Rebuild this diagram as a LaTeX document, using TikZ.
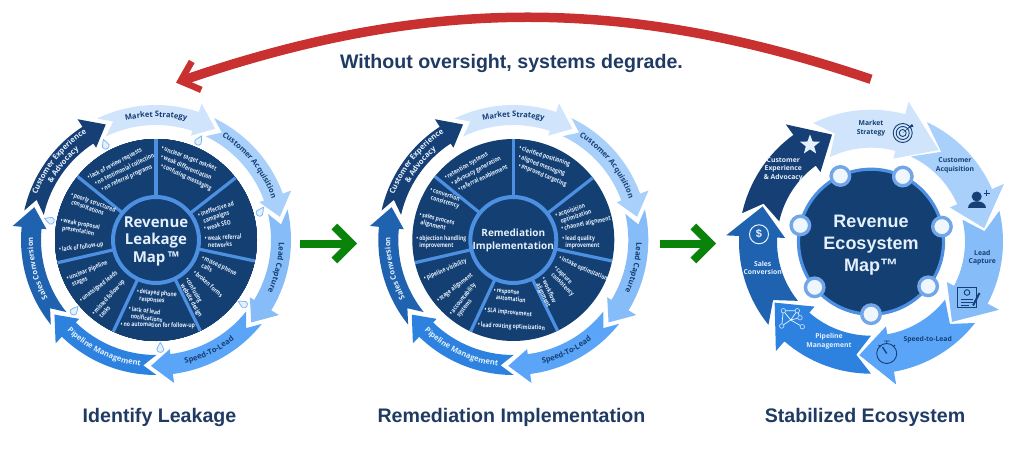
\documentclass[tikz,border=0pt]{standalone}
\usepackage{fontspec}
\setmainfont{Liberation Sans}
\newfontfamily\labelfont{Open Sans}
\newfontfamily\itemfont[FakeStretch=0.8]{Open Sans}
\usepackage{tikz}
\usetikzlibrary{arrows.meta,bending,shapes.geometric,decorations.text}

\definecolor{navy}{HTML}{143F73}
\definecolor{inktitle}{HTML}{1F3B63}
\definecolor{spoke}{HTML}{4D90E2}
\definecolor{colms}{HTML}{D0E5FC}
\definecolor{colca}{HTML}{A8D0FA}
\definecolor{collc}{HTML}{86BCF7}
\definecolor{colsl}{HTML}{5AA5F7}
\definecolor{colpm}{HTML}{2E82DF}
\definecolor{colsc}{HTML}{1F62B0}
\definecolor{colcx}{HTML}{163F75}
\definecolor{iceblue}{HTML}{E4F0FC}
\definecolor{oversight}{HTML}{C93030}
\definecolor{forward}{HTML}{0A830A}

% #1 outer radius, #2 inner radius, #3 outer barb, #4 inner barb, #5 tip radius, #6 arrow list
\newcommand{\ringarrows}[6]{
  \foreach \tip/\barb/\tail/\notch/\col in {#6}
    \fill[\col] (\tail:#1) arc[start angle=\tail, end angle=\barb, radius=#1]
      -- (\barb:#3) -- (\tip:#5) -- (\barb:#4) -- (\barb:#2)
      arc[start angle=\barb, end angle=\tail, radius=#2] -- (\notch:#5) -- cycle;
}
% #1 mid angle, #2 half sweep (negative: reads along the bottom), #3 radius, #4 colour, #5 text
\newcommand{\ringlabel}[5]{
  \path[decorate, decoration={text along path, text align=center,
    text={|\labelfont\bfseries\fontsize{7.6}{8}\selectfont\color{#4}|#5}}]
    ({#1+#2}:#3) arc[start angle={#1+#2}, end angle={#1-#2}, radius=#3];
}
% the ring shared by the two wheels
\newcommand{\smallring}{
  \ringarrows{135}{115}{144}{110}{126}{
    62/71.5/115.9/109.9/colms, 10.6/20.1/64.5/58.5/colca, -40.9/-31.4/13.1/7.1/collc,
    -92.3/-82.8/-38.4/-44.4/colsl, -143.7/-134.2/-89.8/-95.8/colpm,
    -195.1/-185.6/-141.2/-147.2/colsc, -246.5/-237/-192.6/-198.6/colcx}
  \ringlabel{90}{27}{123}{colcx}{Market Strategy}
  \ringlabel{38.6}{27}{123}{colcx}{Customer Acquisition}
  \ringlabel{-12.9}{27}{123}{colcx}{Lead Capture}
  \ringlabel{-64.3}{-27}{127}{colcx}{Speed-To-Lead}
  \ringlabel{-115.7}{-27}{127}{iceblue}{Pipeline Management}
  \ringlabel{193.6}{27}{123}{iceblue}{Sales Conversion}
  \ringlabel{141}{30}{127.5}{iceblue}{Customer Experience}
  \ringlabel{141}{27}{118.5}{iceblue}{{\&} Advocacy}
}
\newcommand{\leakdrop}[2]{
  \draw[dropmark, shift={(#1:108)}, rotate=#2] (0,5.5) .. controls (1,2.5) and (3.5,1) .. (3.5,-1.5)
    .. controls (3.5,-3.5) and (1.5,-4.5) .. (0,-4.5) .. controls (-1.5,-4.5) and (-3.5,-3.5) .. (-3.5,-1.5)
    .. controls (-3.5,1) and (-1,2.5) .. (0,5.5) -- cycle;
}

\begin{document}
\begin{tikzpicture}[
    x=1pt, y=1pt,
    disc/.style={circle, fill=navy, inner sep=0pt, outer sep=0pt, minimum size=#1},
    hub/.style={circle, fill=navy, draw=spoke, line width=4pt, inner sep=0pt, outer sep=0pt, minimum size=86pt, align=center, text=iceblue},
    spokeline/.style={draw=spoke, line width=3.2pt},
    wedgeitem/.style={font=\itemfont\bfseries\fontsize{6.3}{7.2}\selectfont, text=iceblue, anchor=north west, align=left, inner sep=0pt},
    title/.style={font=\bfseries\fontsize{19.6}{22}\selectfont, text=inktitle},
    steplabel/.style={font=\labelfont\bfseries\fontsize{6.8}{8.2}\selectfont, align=center, inner sep=0pt, text=#1},
    dropmark/.style={draw=colsl!80, fill=iceblue, line width=0.8pt},
    greenarrow/.style={draw=forward, line width=8pt, -{Straight Barb[length=17pt, width=34pt, line width=8pt]}},
    redarc/.style={draw=oversight, line width=9.5pt, -{Straight Barb[length=17pt, width=30pt, line width=6.5pt, bend]}},
    iconink/.style={draw=colcx, line width=0.9pt},
    knot/.style={circle, draw=colsl!40, fill=colpm, line width=0.7pt, minimum size=4.5pt, inner sep=0pt},
    satellite/.style={circle, fill=iceblue!60!white, draw=spoke!80, line width=3.4pt, minimum size=18.5pt, inner sep=0pt}
  ]
  \useasboundingbox (0,0) rectangle (1024,448);

  % Feedback arrow
  \coordinate (degradestart) at (871,368.7);
  \coordinate (degradeend) at (176,365.3);
  \draw[redarc] (degradestart) .. controls (625,452) and (424,452) .. (degradeend);
  \node[title] (degrade) at (511.5,385) {Without oversight, systems degrade.};

  % Leakage wheel
  \begin{scope}[shift={(156,208)}]
    \smallring
    \foreach \ang/\rot in {66.7/-30, 15.1/-35, -36.3/60, -87.7/0, -139.1/-40, 169.5/70, 118/20}
      \leakdrop{\ang}{\rot}
    \node[disc=202pt] (leakdisc) at (0,0) {};
    \node[hub] (leakhub) at (0,0) {};
    \foreach \a in {90,38.6,-12.9,-64.3,-115.7,-167.1,141.4}
      \draw[spokeline] (leakhub.\a) -- (leakdisc.\a);
    \node[font=\labelfont\bfseries\fontsize{15}{17.5}\selectfont, align=center, text=iceblue, inner sep=0pt] (leaktext) at (0,-1) {Revenue\\Leakage\\Map\,™};
    \foreach \px/\py/\rot/\txt [count=\n] in {
      6.3/92.7/-21/{unclear target market}, 5.7/83.7/-23/{weak differentiation}, 5.7/75.3/-25/{confusing messaging},
      42.3/25.3/19/{ineffective ad\\campaigns}, 48.3/12/14/{weak SEO}, 49/2/3/{weak referral\\networks},
      46.7/-17.3/-25/{missed phone\\calls}, 39/-31.3/-42/{broken forms}, 31.7/-38/-60/{confusing\\website design},
      -18.7/-50.7/-5/{delayed phone\\responses}, -26.7/-68/-8/{lack of lead\\notifications}, -35/-83.7/-1/{no automation for follow-up},
      -89.3/-38/22/{unclear pipeline\\stages}, -76/-60.3/38/{unassigned leads}, -63.3/-73.7/48/{missed follow-up\\tasks},
      -84.3/46.3/-20/{poorly structured\\consultations}, -95/20.3/-10/{weak proposal\\presentation}, -96.7/-9/7/{lack of follow-up},
      -68.3/62.7/28/{lack of review requests}, -61/57/26/{no testimonial collection}, -54.3/51.3/25/{no referral programs}}
      \node[wedgeitem, rotate=\rot, xshift=2.5pt, yshift=2.2pt] (leakitem\n) at (\px,\py) {\llap{\textbullet\,}\txt};
  \end{scope}

  % Remediation wheel
  \begin{scope}[shift={(513.3,208)}]
    \smallring
    \node[disc=202pt] (remdisc) at (0,0) {};
    \node[hub] (remhub) at (0,0) {};
    \foreach \a in {90,38.6,-12.9,-64.3,-115.7,-167.1,141.4}
      \draw[spokeline] (remhub.\a) -- (remdisc.\a);
    \node[font=\labelfont\bfseries\fontsize{10}{12.5}\selectfont, align=center, text=iceblue, inner sep=0pt] (remtext) at (0,-0.5) {Remediation\\Implementation};
    \foreach \px/\py/\rot/\txt [count=\n] in {
      6.7/92.7/-18/{clarified positioning}, 6/83.7/-20/{aligned messaging}, 6/75.3/-22/{improved targeting},
      42.3/25.3/18/{acquisition\\optimization}, 48.3/12/12/{channel alignment}, 49.3/2/0/{lead quality\\improvement},
      46.7/-17.3/-24/{intake optimization}, 42.3/-27/-45/{capture\\consistency}, 30.7/-38/-65/{workflow\\alignment},
      -19.3/-50.7/-6/{response\\automation}, -28.3/-69/-6/{SLA improvement}, -35/-84/-3/{lead routing optimization},
      -89.3/-38/23/{pipeline visibility}, -76/-60.3/38/{stage alignment}, -63.3/-73.7/52/{accountability\\systems},
      -82.3/51/-18/{conversion\\consistency}, -93.3/26.3/-14/{sales process\\alignment}, -96.7/2/0/{objection handling\\improvement},
      -68.3/62.7/30/{retention systems}, -61.7/57/28/{advocacy generation}, -55/51.3/25/{referral enablement}}
      \node[wedgeitem, rotate=\rot, xshift=2.5pt, yshift=2.2pt] (remitem\n) at (\px,\py) {\llap{\textbullet\,}\txt};
  \end{scope}

  % Ecosystem wheel
  \begin{scope}[shift={(871,206.3)}]
    \ringarrows{132}{94}{145}{86}{114}{
      53.5/75/116/108.5/colms, 6.8/23.5/65/52/colca, -44.7/-28/13.5/5.3/collc,
      -95.9/-80/-38/-46.2/colsl, -147.7/-131/-90/-97.4/colpm,
      -198/-182.5/-141/-149.2/colsc, -250/-234/-192.5/-199.5/colcx}
    \node[disc=145pt, draw=spoke, line width=3.2pt] (ecohub) at (0,0) {};
    \foreach \a [count=\n] in {64.3,12.9,-38.6,-90,-141.4,167.1,115.7}
      \node[satellite] (sat\n) at (ecohub.\a) {};
    \node[font=\bfseries\fontsize{18}{22}\selectfont, align=center, text=iceblue, inner sep=0pt] (ecotext) at (0,-3.3) {Revenue\\Ecosystem\\Map™};
  \end{scope}
  \node[steplabel=colcx] (ecoms) at (871,319.7) {Market\\Strategy};
  \node[steplabel=colcx] (ecoca) at (955,282.7) {Customer\\Acquisition};
  \node[steplabel=colcx] (ecolc) at (982.3,190.3) {Lead\\Capture};
  \node[steplabel=colcx] (ecosl) at (927.7,108.7) {Speed-to-Lead};
  \node[steplabel=iceblue] (ecopm) at (829,106.7) {Pipeline\\Management};
  \node[steplabel=iceblue] (ecosc) at (762.7,180.3) {Sales\\Conversion};
  \node[steplabel=iceblue] (ecocx) at (783.3,278.7) {Customer\\Experience\\{\&} Advocacy};

  % Target icon
  \foreach \r in {9.5,6.5,3.5}
    \draw[iconink] (902.7,315) circle (\r);
  \fill[colcx] (902.7,315) -- (912,324) -- (913.5,321.5) -- (909,320) -- cycle;
  % Person icon
  \fill[colcx] (976.7,251.5) circle (5);
  \fill[colcx] (967.5,240) .. controls (967.5,249) and (985.5,249) .. (985.5,240) -- cycle;
  \draw[iconink] (986.5,252) -- (986.5,258) (983.5,255) -- (989.5,255);
  % Contract icon
  \draw[iconink] (957.5,141) rectangle (976,161);
  \draw[iconink] (967,155.5) circle (2.8);
  \draw[iconink] (961,149) -- (973,149) (961,146) -- (973,146) (961,143) -- (969,143);
  \draw[colcx, line width=2pt] (973,142.5) -- (979.5,155);
  % Stopwatch icon
  \draw[iconink] (886.7,94.5) circle (10);
  \draw[iconink] (884,107) -- (889.5,107) (886.7,107) -- (886.7,104.5) (878.5,103) -- (880.5,101) (895,103) -- (893,101);
  \draw[colcx, line width=1.3pt] (886.7,94.5) -- (882.5,101);
  % Network icon
  \foreach \nx/\ny/\id in {783.3/137.3/a, 797.3/137.3/b, 800/130.3/c, 781.7/122/d, 802.3/121.3/e, 790.7/128/f}
    \coordinate (net\id) at (\nx,\ny);
  \draw[draw=iceblue!70, line width=0.7pt] (neta) -- (netb) -- (netf) -- (neta) (neta) -- (netd) -- (netf) -- (netc) -- (netb) (netf) -- (nete);
  \foreach \id in {a,b,c,d,e}
    \node[knot] (knot\id) at (net\id) {};
  % Dollar coin
  \node[circle, draw=iceblue, line width=1pt, minimum size=19pt, inner sep=0pt, font=\bfseries\fontsize{11}{12}\selectfont, text=iceblue] (coin) at (759,213.7) {\$};
  % Star
  \node[star, star points=5, star point ratio=2.4, fill=iceblue, minimum size=21pt, inner sep=0pt] (stariz) at (810,303) {};

  % Forward arrows
  \coordinate (firstout) at (300,204.5);
  \coordinate (firstin) at (357,204.5);
  \coordinate (secondout) at (660,204.5);
  \coordinate (secondin) at (716,204.5);
  \draw[greenarrow] (firstout) -- (firstin);
  \draw[greenarrow] (secondout) -- (secondin);

  % Titles
  \node[title] (titleleak) at (159.5,31) {Identify Leakage};
  \node[title] (titlerem) at (511.5,31) {Remediation Implementation};
  \node[title] (titleeco) at (865,31) {Stabilized Ecosystem};
\end{tikzpicture}
\end{document}
